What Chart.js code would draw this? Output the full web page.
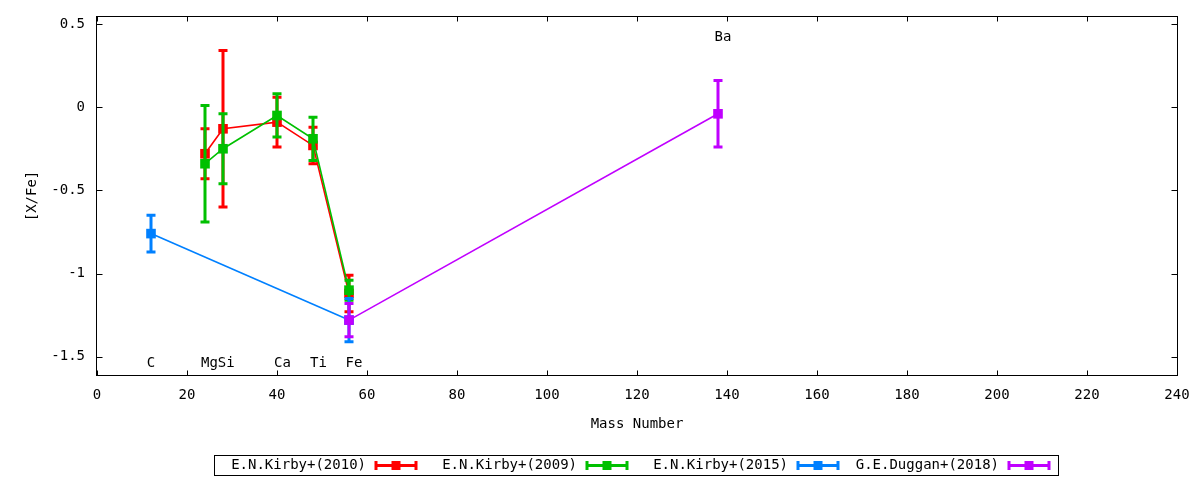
<!DOCTYPE html>
<html><head><meta charset="utf-8">
<script src="https://cdn.jsdelivr.net/npm/chart.js@4.4.1/dist/chart.umd.min.js"></script>
<style>html,body{margin:0;padding:0;background:#fff;} #wrap{width:1200px;height:480px;position:relative;}</style>
</head><body><div id="wrap"><canvas id="c"></canvas></div>
<script>
// ---- data ----
const seriesNames = ['E.N.Kirby+(2010)', 'E.N.Kirby+(2009)', 'E.N.Kirby+(2015)', 'G.E.Duggan+(2018)'];
const seriesColors = ['#ff0000', '#00c000', '#0080ff', '#c000ff'];

const kirby2010Mass = [24, 28, 40, 48, 56];
const kirby2010Val  = [-0.28, -0.13, -0.09, -0.23, -1.12];
const kirby2010Err  = [0.15, 0.47, 0.15, 0.11, 0.11];

const kirby2009Mass = [24, 28, 40, 48, 56];
const kirby2009Val  = [-0.34, -0.25, -0.05, -0.19, -1.10];
const kirby2009Err  = [0.35, 0.21, 0.13, 0.13, 0.06];

const kirby2015Mass = [12, 56];
const kirby2015Val  = [-0.76, -1.28];
const kirby2015Err  = [0.11, 0.13];

const duggan2018Mass = [56, 138];
const duggan2018Val  = [-1.28, -0.04];
const duggan2018Err  = [0.10, 0.20];

const elementNames  = ['C', 'Mg', 'Si', 'Ca', 'Ti', 'Fe', 'Ba'];
const elementLabelX = [12, 25, 28.7, 41.2, 49.2, 57.1, 139.1];
const elementLabelY = [-1.54, -1.54, -1.54, -1.54, -1.54, -1.54, 0.42];

const xTicks = [0, 20, 40, 60, 80, 100, 120, 140, 160, 180, 200, 220, 240];
const yTicks = [-1.5, -1, -0.5, 0, 0.5];
const xTitle = 'Mass Number';
const yTitle = '[X/Fe]';

// ---- build ----
const FONT = "'DejaVu Sans Mono', monospace";
const FSIZE = 14;
Chart.defaults.font.family = FONT;
Chart.defaults.font.size = FSIZE;
Chart.defaults.color = '#000';

const masses = [kirby2010Mass, kirby2009Mass, kirby2015Mass, duggan2018Mass];
const vals = [kirby2010Val, kirby2009Val, kirby2015Val, duggan2018Val];
const errs = [kirby2010Err, kirby2009Err, kirby2015Err, duggan2018Err];

const datasets = seriesNames.map((name, i) => ({
  label: name,
  data: masses[i].map((m, j) => ({x: m, y: vals[i][j]})),
  errors: errs[i],
  borderColor: seriesColors[i],
  backgroundColor: seriesColors[i],
  borderWidth: 1.6,
  pointStyle: 'rect',
  pointRadius: 6.8,
  pointBorderWidth: 0,
  showLine: true,
  tension: 0,
  order: 3 - i
}));

function drawCapBar(ctx, x, y1, y2, color) {
  ctx.save();
  ctx.strokeStyle = color;
  ctx.lineWidth = 3;
  ctx.beginPath();
  ctx.moveTo(x, y1); ctx.lineTo(x, y2);
  ctx.moveTo(x - 4.5, y1); ctx.lineTo(x + 4.5, y1);
  ctx.moveTo(x - 4.5, y2); ctx.lineTo(x + 4.5, y2);
  ctx.stroke();
  ctx.restore();
}

const errorBarPlugin = {
  id: 'errorBars',
  afterDatasetDraw(chart, args) {
    const ds = chart.data.datasets[args.index];
    const xs = chart.scales.x, ys = chart.scales.y;
    ds.data.forEach((p, j) => {
      const e = ds.errors[j];
      const px = xs.getPixelForValue(p.x);
      drawCapBar(chart.ctx, px, ys.getPixelForValue(p.y + e), ys.getPixelForValue(p.y - e), ds.borderColor);
    });
  }
};

const framePlugin = {
  id: 'frame',
  afterDraw(chart) {
    const {ctx, chartArea: a} = chart;
    const xs = chart.scales.x, ys = chart.scales.y;
    ctx.save();
    ctx.strokeStyle = '#000';
    ctx.lineWidth = 1;
    const L = Math.round(a.left) - 0.5, R = Math.round(a.right) + 0.5;
    const T = Math.round(a.top) - 0.5, B = Math.round(a.bottom) + 0.5;
    ctx.strokeRect(L, T, R - L, B - T);
    ctx.beginPath();
    xTicks.forEach(v => {
      const px = Math.round(xs.getPixelForValue(v)) + 0.5;
      ctx.moveTo(px, B); ctx.lineTo(px, B - 5);
      ctx.moveTo(px, T); ctx.lineTo(px, T + 5);
    });
    yTicks.forEach(v => {
      const py = Math.round(ys.getPixelForValue(v)) + 0.5;
      ctx.moveTo(L, py); ctx.lineTo(L + 6, py);
      ctx.moveTo(R, py); ctx.lineTo(R - 6, py);
    });
    ctx.stroke();

    // element labels
    ctx.fillStyle = '#000';
    ctx.font = FSIZE + 'px ' + FONT;
    ctx.textAlign = 'center';
    ctx.textBaseline = 'middle';
    elementNames.forEach((t, k) => {
      ctx.fillText(t, xs.getPixelForValue(elementLabelX[k]), ys.getPixelForValue(elementLabelY[k]));
    });

    // legend
    const bx1 = 214.5, bx2 = 1058.5, by1 = 455.5, by2 = 475.5, cy = 465.5;
    ctx.strokeRect(bx1, by1, bx2 - bx1, by2 - by1);
    ctx.textAlign = 'right';
    chart.data.datasets.forEach((ds, i) => {
      const tx = 366 + 211 * i;
      ctx.fillStyle = '#000';
      ctx.fillText(ds.label, tx, cy);
      const s1 = 376 + 211 * i, s2 = 416 + 211 * i;
      ctx.strokeStyle = ds.borderColor;
      ctx.lineWidth = 3;
      ctx.beginPath();
      ctx.moveTo(s1, cy); ctx.lineTo(s2, cy);
      ctx.moveTo(s1, cy - 4.5); ctx.lineTo(s1, cy + 4.5);
      ctx.moveTo(s2, cy - 4.5); ctx.lineTo(s2, cy + 4.5);
      ctx.stroke();
      ctx.fillStyle = ds.borderColor;
      ctx.fillRect((s1 + s2) / 2 - 4.5, cy - 4.5, 9, 9);
    });
    ctx.restore();
  }
};

new Chart(document.getElementById('c'), {
  type: 'line',
  data: { datasets },
  options: {
    responsive: true,
    maintainAspectRatio: false,
    animation: false,
    events: [],
    devicePixelRatio: 1,
    layout: { padding: { left: 0, right: 23, top: 17, bottom: 0 } },
    plugins: { legend: { display: false }, tooltip: { enabled: false } },
    scales: {
      x: {
        type: 'linear', min: 0, max: 240,
        afterBuildTicks: s => { s.ticks = xTicks.map(v => ({value: v})); },
        afterFit: s => { s.height = 105; s.paddingLeft = 0; s.paddingRight = 0; },
        ticks: { padding: 12, maxRotation: 0, autoSkip: false, callback: v => String(v) },
        grid: { display: false, drawTicks: false },
        border: { display: false },
        title: { display: true, text: xTitle, padding: { top: 0, bottom: 47 } }
      },
      y: {
        type: 'linear', min: -1.61, max: 0.542,
        afterBuildTicks: s => { s.ticks = yTicks.map(v => ({value: v})); },
        afterFit: s => { s.width = 97; s.paddingTop = 0; s.paddingBottom = 0; },
        ticks: { padding: 12, autoSkip: false, callback: v => String(v) },
        grid: { display: false, drawTicks: false },
        border: { display: false },
        title: { display: true, text: yTitle, padding: { top: 24, bottom: 0 } }
      }
    }
  },
  plugins: [errorBarPlugin, framePlugin]
});
</script>
</body></html>
